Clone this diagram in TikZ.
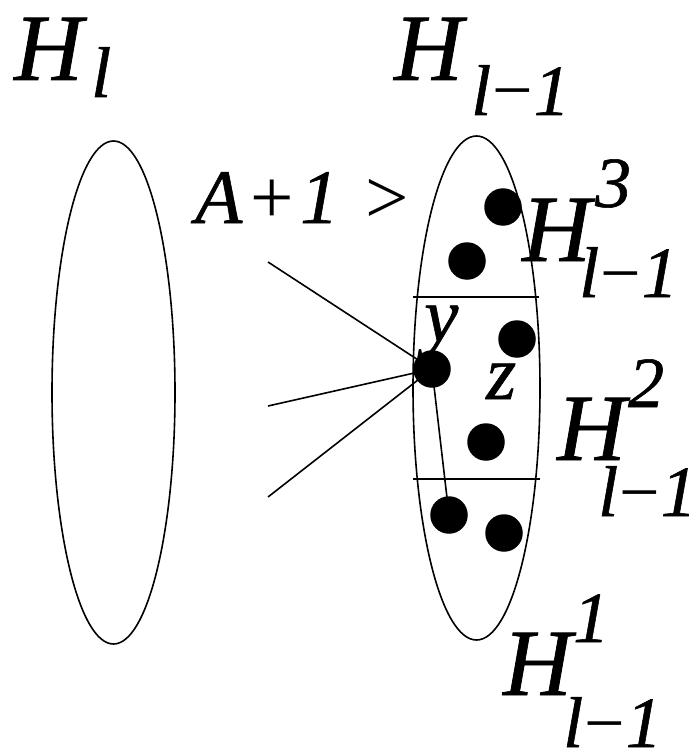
\documentclass[tikz,border=0pt]{standalone}
\usepackage{fontspec}
\setmainfont{Liberation Serif}[ItalicFeatures={FakeBold=0.8}]
\usetikzlibrary{shapes.geometric}
\newcommand\bigH{\fontsize{95}{95}\selectfont\itshape}
\newcommand\smallt{\fontsize{72}{72}\selectfont\itshape}
\newcommand\midt{\fontsize{77}{77}\selectfont}
% #1 sup kern, #2 sup raise, #3 sup, #4 sub kern, #5 sub lower, #6 sub
\newcommand\Hlabel[6]{\rlap{\bigH H}\rlap{\kern#1\raisebox{#2}{\smallt #3}}\kern#4\raisebox{-#5}{\smallt #6}}
\newcommand\lmo{l\kern1pt{\upshape\char"2212}\kern1pt 1}
\begin{document}
\begin{tikzpicture}[x=1pt,y=-1pt,
  set/.style={draw,ellipse,line width=1.6pt,inner sep=0},
  vtx/.style={circle,fill=black,inner sep=0,minimum size=37.5pt},
  edge/.style={line width=1.6pt},
  lab/.style={anchor=base west,inner sep=0}]
\useasboundingbox (0,0) rectangle (688,751);
\fill[white] (0,0) rectangle (688,751);
% sets
\node[set,minimum width=123pt,minimum height=503pt] (Hl) at (113.5,392.5) {};
\node[set,minimum width=127pt,minimum height=504pt] (Hlm) at (476.5,388) {};
\coordinate (c1w) at (413,297); \coordinate (c1e) at (539,297);
\coordinate (c2w) at (413,479); \coordinate (c2e) at (540,479);
\draw[edge] (c1w) -- (c1e);
\draw[edge] (c2w) -- (c2e);
% vertices
\coordinate (vy) at (432,369);
\coordinate (v6c) at (449,515);
\coordinate (e1) at (268,262);
\coordinate (e2) at (268,406);
\coordinate (e3) at (268,497);
\draw[edge] (e1) -- (vy);
\draw[edge] (e2) -- (vy);
\draw[edge] (e3) -- (vy);
\draw[edge] (vy) -- (v6c);
\node[vtx] (y) at (vy) {};
\node[vtx] (v1) at (503,207) {};
\node[vtx] (v2) at (467,261) {};
\node[vtx] (v3) at (517,339) {};
\node[vtx] (v5) at (486,442) {};
\node[vtx] (v6) at (v6c) {};
\node[vtx] (v7) at (504,533) {};
% labels
\node[lab] (tHl) at (14,80) {\Hlabel{0pt}{0pt}{}{77pt}{17pt}{l}};
\node[lab] (tHlm) at (394,80) {\Hlabel{0pt}{0pt}{}{77pt}{35pt}{\lmo}};
\node[lab] (tH3) at (522,261) {\Hlabel{73pt}{54pt}{3}{57pt}{36pt}{\lmo}};
\node[lab] (tH2) at (557,460) {\Hlabel{71pt}{53pt}{2}{41pt}{56pt}{\lmo}};
\node[lab] (tH1) at (503,695) {\Hlabel{70pt}{53pt}{1}{60pt}{52pt}{\lmo}};
\node[lab] (tA) at (195,223) {\midt\rlap{\itshape A}\rlap{\kern55pt +}\rlap{\kern105pt\itshape 1}\kern170pt>};
\node[lab] (ty) at (424,341) {\midt\itshape y};
\node[lab] (tz) at (486,399) {\midt\itshape z};
\end{tikzpicture}
\end{document}
